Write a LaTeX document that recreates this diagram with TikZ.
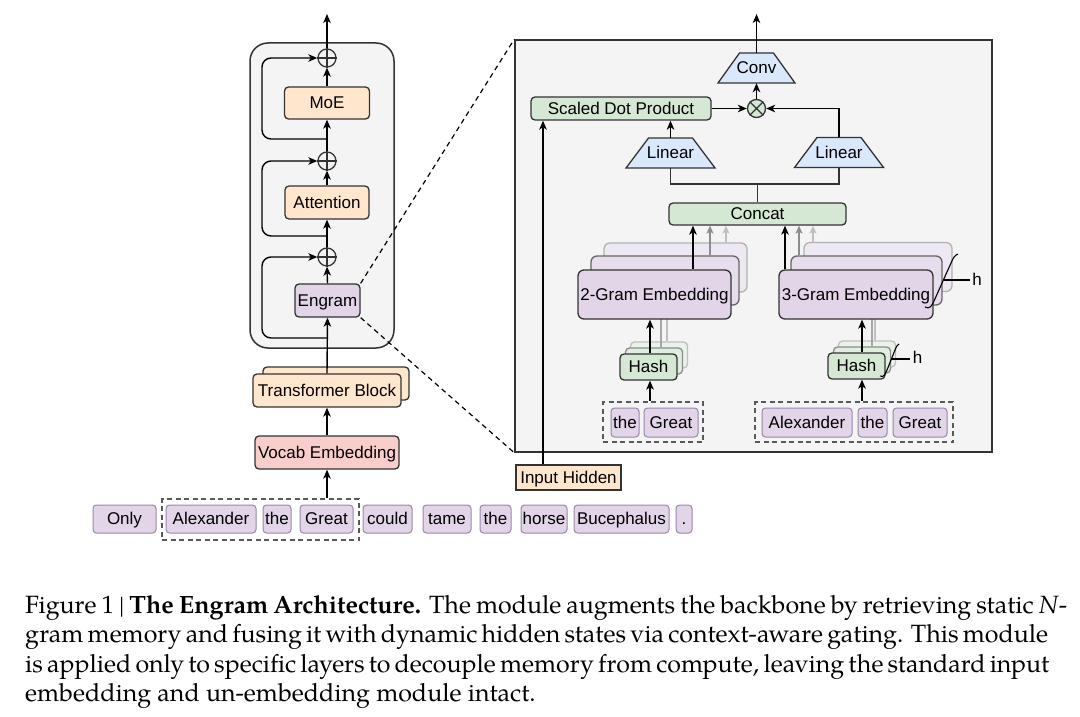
\documentclass[tikz,border=0pt]{standalone}
\usepackage{fontspec}
\usetikzlibrary{arrows.meta,calc}
\newfontfamily\dfont{Liberation Sans}
\newfontfamily\capfont[Extension=.otf,UprightFont=*-regular,BoldFont=*-bold,ItalicFont=*-italic,BoldItalicFont=*-bolditalic]{texgyrepagella}
\newcommand\mydsz{\fontsize{17pt}{19pt}\selectfont}
\definecolor{org}{HTML}{FFE6CC}
\definecolor{pur}{HTML}{E1D5E7}
\definecolor{grn}{HTML}{D5E8D4}
\definecolor{blu}{HTML}{DAE8FC}
\definecolor{pnk}{HTML}{F8CECC}
\definecolor{bgc}{HTML}{F4F4F4}
\definecolor{tokb}{HTML}{9A86AA}
\begin{document}
\begin{tikzpicture}[x=1pt,y=-1pt,
 dk/.style={draw=black!80, line width=1.3pt},
 blk/.style={dk, rounded corners=4pt, inner sep=0pt, font=\dfont\mydsz, text height=12.2pt, text depth=1pt},
 emb/.style={blk, rounded corners=6pt, minimum height=49pt},
 hsh/.style={blk, fill=grn, minimum width=57pt, minimum height=26pt},
 tok/.style={draw=tokb, fill=pur, line width=1pt, rounded corners=3.5pt, inner sep=0pt, minimum height=28pt, font=\dfont\mydsz, text height=12.2pt, text depth=1pt},
 arr/.style={-{Stealth[length=9pt,width=7.5pt,inset=2.5pt]}, line width=1.4pt, draw=black},
 garr/.style={-{Stealth[length=8pt,width=7pt,inset=2pt]}, line width=1.3pt, draw=black!45},
 larr/.style={garr, draw=black!25},
 gln/.style={line width=1.3pt, draw=black!35},
 dsh/.style={draw=black!65, line width=1.1pt, dash pattern=on 5pt off 3.5pt, inner sep=0pt},
 ring/.style={circle, dk, minimum size=18pt, inner sep=0pt},
 lbl/.style={font=\dfont\mydsz, inner sep=0pt, text height=12.2pt, text depth=1pt},
 zoomln/.style={line width=1.2pt, draw=black, dash pattern=on 5pt off 4pt},
 capl/.style={anchor=base west, inner sep=0pt, font=\capfont\fontsize{25pt}{29.5pt}\selectfont}
]
\useasboundingbox (0,0) rectangle (1080,717);

% ---------------- left column ----------------
\node[dk, line width=1.5pt, fill=bgc, rounded corners=18pt, minimum width=144pt, minimum height=305pt, inner sep=0pt] (cont) at (322,195.5) {};

\node[blk, fill=org, minimum width=85pt, minimum height=32pt] (moe) at (327,103) {MoE};
\node[blk, fill=org, minimum width=84pt, minimum height=33pt] (att) at (327,202.5) {Attention};
\node[blk, fill=pur, minimum width=65pt, minimum height=33pt] (eng) at (327.5,300.5) {Engram};

\node[ring] (c1) at (327,58) {};
\node[ring] (c2) at (327,161) {};
\node[ring] (c3) at (327,257) {};
\foreach \c in {c1,c2,c3} {\draw[dk] (\c.north) -- (\c.south) (\c.west) -- (\c.east);}

\node[blk, fill=org, minimum width=146pt, minimum height=33pt] (tbb) at (336,383.5) {};
\node[blk, fill=org, minimum width=148pt, minimum height=33pt] (tb) at (327,390.5) {Transformer Block};
\node[blk, fill=pnk, minimum width=144pt, minimum height=33pt] (voc) at (327,452.5) {Vocab Embedding};

% tokens
\node[tok, minimum width=63pt] (t1) at (124.5,519) {Only};
\node[tok, minimum width=90pt] (t2) at (211,519) {Alexander};
\node[tok, minimum width=28pt] (t3) at (277,519) {the};
\node[tok, minimum width=53pt] (t4) at (326.5,519) {Great};
\node[tok, minimum width=49pt] (t5) at (387.5,519) {could};
\node[tok, minimum width=48pt] (t6) at (447,519) {tame};
\node[tok, minimum width=31pt] (t7) at (495.5,519) {the};
\node[tok, minimum width=46pt] (t8) at (544,519) {horse};
\node[tok, minimum width=95pt] (t9) at (621.5,519) {Bucephalus};
\node[tok, minimum width=16pt] (t10) at (684,519) {.};
\node[dsh, minimum width=197pt, minimum height=41pt] (grp) at (260.5,519.5) {};

% main connectors
\draw[arr] (grp.north -| voc.south) -- (voc.south);
\draw[arr] (voc.north) -- (tb.south);
\draw[arr] (tb.north) -- (eng.south);
\draw[arr] (eng.north) -- (c3.south);
\draw[arr] (c3.north) -- (att.south);
\draw[arr] (att.north) -- (c2.south);
\draw[arr] (c2.north) -- (moe.south);
\draw[arr] (moe.north) -- (c1.south);
\coordinate (top1) at (327,14);
\draw[arr] (c1.north) -- (top1);

\coordinate (l1) at (327,139);
\coordinate (l2) at (327,236);
\coordinate (l3) at (327,338);
\draw[arr, rounded corners=9pt] (l1) -- ++(-65,0) |- (c1.west);
\draw[arr, rounded corners=9pt] (l2) -- ++(-65,0) |- (c2.west);
\draw[arr, rounded corners=9pt] (l3) -- ++(-65,0) |- (c3.west);

% ---------------- right panel ----------------
\node[dk, line width=1.5pt, fill=bgc, minimum width=477pt, minimum height=412pt, inner sep=0pt] (panel) at (753.5,246) {};
\draw[zoomln] (eng.north east) -- (panel.north west);
\draw[zoomln] (eng.south east) -- (panel.south west);

% Conv
\coordinate (convc) at (756.5,68);
\filldraw[dk, fill=blu] ($(convc)+(-38.5,15)$) -- ($(convc)+(38.5,15)$) -- ($(convc)+(17,-15)$) -- ($(convc)+(-17,-15)$) -- cycle;
\node[lbl, minimum width=77pt, minimum height=30pt] (conv) at (convc) {Conv};
\coordinate (top2) at (756.5,14);
\draw[arr] (conv.north) -- (top2);

\node[ring, fill=grn] (mul) at (756.5,108.5) {};
\draw[dk] (mul.north west) -- (mul.south east) (mul.north east) -- (mul.south west);
\draw[arr] (mul.north) -- (conv.south);

\node[blk, fill=grn, minimum width=180pt, minimum height=23pt] (sdp) at (621,108.5) {Scaled Dot Product};
\draw[arr] (sdp.east) -- (mul.west);

% Linear trapezia
\coordinate (linlc) at (670.5,153);
\filldraw[dk, fill=blu] ($(linlc)+(-44.5,15)$) -- ($(linlc)+(44.5,15)$) -- ($(linlc)+(22,-15)$) -- ($(linlc)+(-22,-15)$) -- cycle;
\node[lbl, minimum width=89pt, minimum height=30pt] (linl) at (linlc) {Linear};
\coordinate (linrc) at (839,152.5);
\filldraw[dk, fill=blu] ($(linrc)+(-44.5,15)$) -- ($(linrc)+(44.5,15)$) -- ($(linrc)+(22,-15)$) -- ($(linrc)+(-22,-15)$) -- cycle;
\node[lbl, minimum width=89pt, minimum height=30pt] (linr) at (linrc) {Linear};

\draw[arr] (linl.north) -- (linl.north |- sdp.south);
\draw[arr] (linr.north) |- (mul.east);

\node[blk, fill=grn, minimum width=177pt, minimum height=22pt] (cat) at (757.5,214) {Concat};
\coordinate (jn) at (757.5,184);
\draw[dk] (cat.north) -- (jn);
\draw[dk] (linl.south) |- (jn) -| (linr.south);

% 2-gram embedding stack
\node[emb, fill=pur!55, draw=black!30, minimum width=143pt] (e2c) at (675.5,267.5) {};
\node[emb, fill=pur!80, draw=black!60, minimum width=148pt] (e2b) at (665,280.5) {};
\node[hsh, fill=grn!50, draw=black!25] (h2c) at (659,355) {};
\node[hsh, fill=grn!75, draw=black!45] (h2b) at (654,361) {};
\draw[gln] ([xshift=7pt]h2b.north) -- ([xshift=7pt]h2b.north |- e2b.south);
\draw[gln, draw=black!25] ([xshift=8pt]h2c.north) -- ([xshift=8pt]h2c.north |- e2c.south);
\node[emb, fill=pur, minimum width=153pt] (e2a) at (654.5,294.5) {2-Gram Embedding};
\node[hsh] (h2a) at (648.5,367) {Hash};
\draw[arr] ([xshift=1.5pt]h2a.north) -- ([xshift=1.5pt]h2a.north |- e2a.south);
\draw[arr] ([xshift=38.5pt]e2a.north) -- ([xshift=38.5pt]e2a.north |- cat.south);
\draw[garr] ([xshift=45pt]e2b.north) -- ([xshift=45pt]e2b.north |- cat.south);
\draw[larr] ([xshift=50.5pt]e2c.north) -- ([xshift=50.5pt]e2c.north |- cat.south);

% 3-gram embedding stack
\node[emb, fill=pur!55, draw=black!30, minimum width=148pt] (e3c) at (878,267) {};
\node[emb, fill=pur!80, draw=black!60, minimum width=151pt] (e3b) at (866.5,280.5) {};
\node[hsh, fill=grn!50, draw=black!25] (h3c) at (867,354) {};
\node[hsh, fill=grn!75, draw=black!45] (h3b) at (862,360) {};
\draw[gln] ([xshift=10pt]h3b.north) -- ([xshift=10pt]h3b.north |- e3b.south);
\draw[gln, draw=black!25] ([xshift=8pt]h3c.north) -- ([xshift=8pt]h3c.north |- e3c.south);
\node[emb, fill=pur, minimum width=154pt] (e3a) at (856,294.5) {3-Gram Embedding};
\node[hsh] (h3a) at (856.5,366) {Hash};
\draw[arr] ([xshift=5.5pt]h3a.north) -- ([xshift=5.5pt]h3a.north |- e3a.south);
\draw[arr] ([xshift=-71pt]e3a.north) -- ([xshift=-71pt]e3a.north |- cat.south);
\draw[garr] ([xshift=-67.5pt]e3b.north) -- ([xshift=-67.5pt]e3b.north |- cat.south);
\draw[larr] ([xshift=-65pt]e3c.north) -- ([xshift=-65pt]e3c.north |- cat.south);

% h braces
\draw[line width=1.1pt] (925,307) .. controls (930,310) and (932,305) .. (934,301) -- (951,263) .. controls (953,258) and (955,255) .. (958,254);
\draw[line width=1.1pt] (944,280) -- (970,280);
\node[lbl] (hh1) at (977,280) {h};
\draw[line width=1.1pt] (880,376) .. controls (884,378) and (885,374) .. (887,370) -- (895,350) .. controls (896,347) and (897,345) .. (899,344);
\draw[line width=1.1pt] (891,359) -- (910,359);
\node[lbl] (hh2) at (917.5,358) {h};

% n-gram tokens
\node[tok, minimum width=28pt, minimum height=29pt] (a1) at (625,422.5) {the};
\node[tok, minimum width=54pt, minimum height=29pt] (a2) at (671,422.5) {Great};
\node[dsh, minimum width=100pt, minimum height=40pt] (ga) at (653,422) {};
\node[tok, minimum width=90pt, minimum height=29pt] (b1) at (807,422.5) {Alexander};
\node[tok, minimum width=29pt, minimum height=29pt] (b2) at (872.5,422.5) {the};
\node[tok, minimum width=54pt, minimum height=29pt] (b3) at (920,422.5) {Great};
\node[dsh, minimum width=198pt, minimum height=40pt] (gb) at (854,422) {};
\draw[arr] ([xshift=1.5pt]h2a.south |- ga.north) -- ([xshift=1.5pt]h2a.south);
\draw[arr] ([xshift=5.5pt]h3a.south |- gb.north) -- ([xshift=5.5pt]h3a.south);

% Input hidden
\node[dk, fill=org, inner sep=0pt, minimum width=105pt, minimum height=25pt, font=\dfont\mydsz, text height=12.2pt, text depth=1pt] (inh) at (568.5,477.5) {Input Hidden};
\draw[arr] ([xshift=-25.5pt]inh.north) -- ([xshift=-25.5pt]inh.north |- sdp.south);

% ---------------- caption ----------------
\node[capl] (cap1) at (25,613) {\makebox[1042pt][s]{Figure 1 | \textbf{The Engram Architecture.} The module augments the backbone by retrieving static \textit{N}-}};
\node[capl] (cap2) at (25,642) {\makebox[1018pt][s]{gram memory and fusing it with dynamic hidden states via context-aware gating. This module}};
\node[capl] (cap3) at (25,672) {\makebox[1008pt][s]{is applied only to specific layers to decouple memory from compute, leaving the standard input}};
\node[capl] (cap4) at (25,701) {embedding and un-embedding module intact.};
\end{tikzpicture}
\end{document}
